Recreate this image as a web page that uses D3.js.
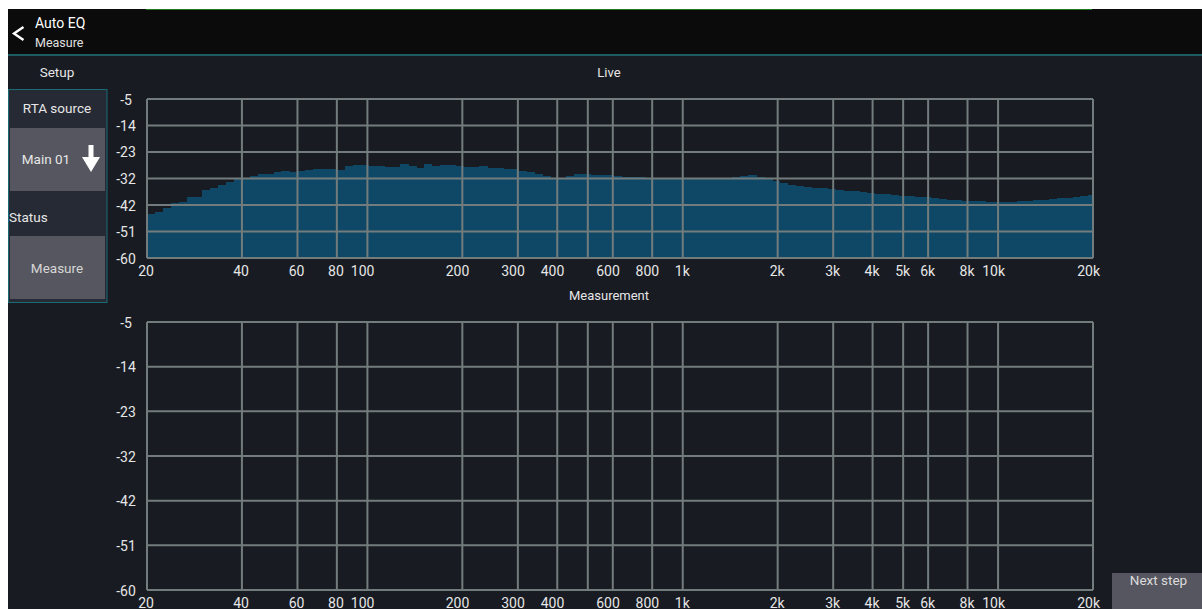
<!DOCTYPE html>
<html>
<head>
<meta charset="utf-8">
<script src="https://cdn.jsdelivr.net/npm/d3@7"></script>
<style>
  html, body { margin: 0; padding: 0; background: #fff; }
  svg { display: block; font-family: Roboto, "Noto Sans", sans-serif; }
</style>
</head>
<body>
<div id="app"></div>
<script>
// RTA levels (dB), one per 1/12 octave band starting at 20 Hz
const liveLevels = [
  -44.8, -44.2, -42.6, -41.1, -40.5, -38.9, -38.9, -36.4, -35.9, -34.8,
  -33.8, -32.7, -32.7, -31.5, -31.1, -31.1, -30.2, -30.0, -30.2, -29.9,
  -29.4, -29.1, -29.1, -29.3, -29.5, -28.3, -27.8, -27.8, -28.1, -28.1,
  -28.4, -28.4, -27.6, -28.3, -29.0, -27.6, -28.2, -27.8, -27.9, -28.3,
  -28.5, -28.5, -28.3, -29.0, -29.0, -29.3, -29.3, -29.9, -30.2, -30.8,
  -31.5, -32.4, -32.4, -31.5, -31.1, -31.1, -31.3, -31.2, -31.2, -31.5,
  -31.9, -31.9, -32.0, -32.2, -32.5, -32.5, -32.5, -32.6, -32.6, -32.6,
  -32.6, -32.6, -32.5, -32.3, -32.0, -31.5, -31.4, -32.0, -32.6, -33.4,
  -34.0, -34.6, -35.2, -35.5, -35.7, -35.9, -36.1, -36.4, -36.7, -36.9,
  -37.2, -37.4, -37.7, -37.9, -38.2, -38.4, -38.6, -38.8, -38.9, -39.2,
  -39.5, -39.8, -40.0, -40.2, -40.3, -40.4, -40.5, -40.5, -40.5, -40.5,
  -40.4, -40.2, -40.1, -39.9, -39.7, -39.4, -39.2, -38.9, -38.6, -38.3
];
const measurementLevels = []; // nothing measured yet

const bandsPerOctave = 12;
const freqDomain = [20, 20000];
const dbDomain = [-60, -5];

const gridFreqs = [40, 60, 80, 100, 200, 300, 400, 500, 600, 800,
  1000, 2000, 3000, 4000, 5000, 6000, 8000, 10000];
const freqLabels = [20, 40, 60, 80, 100, 200, 300, 400, 600, 800,
  1000, 2000, 3000, 4000, 5000, 6000, 8000, 10000, 20000];
const dbTicks = [-5, -14.17, -23.33, -32.5, -41.67, -50.83, -60];
const dbLabels = ["-5", "-14", "-23", "-32", "-42", "-51", "-60"];

const W = 1202, H = 609;
const gridColor = "#737c7c";
const textColor = "#e6e6e6";

const svg = d3.select("#app").append("svg")
  .attr("width", W).attr("height", H);

// page + app background
svg.append("rect").attr("width", W).attr("height", H).attr("fill", "#fff");
svg.append("rect").attr("x", 8).attr("y", 9).attr("width", W - 8).attr("height", H - 9)
  .attr("fill", "#181b22");

// header
svg.append("rect").attr("x", 8).attr("y", 9).attr("width", W - 8).attr("height", 45)
  .attr("fill", "#0b0b0b");
svg.append("rect").attr("x", 8).attr("y", 54).attr("width", W - 8).attr("height", 2)
  .attr("fill", "#1c5a64");
svg.append("rect").attr("x", 146).attr("y", 9).attr("width", 946).attr("height", 1)
  .attr("fill", "#1f7a22");
svg.append("path").attr("d", "M23.5,27 L14,33.5 L23.5,40")
  .attr("fill", "none").attr("stroke", "#fff").attr("stroke-width", 2.4);
svg.append("text").attr("x", 35).attr("y", 28).attr("fill", "#fff")
  .attr("font-size", 14).text("Auto EQ");
svg.append("text").attr("x", 35).attr("y", 46.5).attr("fill", "#e0e0e0")
  .attr("font-size", 12.5).text("Measure");

// left setup panel
svg.append("text").attr("x", 57).attr("y", 77).attr("text-anchor", "middle")
  .attr("fill", textColor).attr("font-size", 13.5).text("Setup");
svg.append("rect").attr("x", 8.5).attr("y", 89.5).attr("width", 98.5).attr("height", 213)
  .attr("fill", "#262a35").attr("stroke", "#1b6b77").attr("stroke-width", 1);
svg.append("text").attr("x", 57).attr("y", 113).attr("text-anchor", "middle")
  .attr("fill", textColor).attr("font-size", 13.5).text("RTA source");
svg.append("rect").attr("x", 10).attr("y", 128).attr("width", 95).attr("height", 63)
  .attr("fill", "#55565f");
svg.append("text").attr("x", 46).attr("y", 164).attr("text-anchor", "middle")
  .attr("fill", textColor).attr("font-size", 13.5).text("Main 01");
svg.append("path")
  .attr("d", "M88.5,145 L93.5,145 L93.5,157 L100,157 L91,172 L82,157 L88.5,157 Z")
  .attr("fill", "#fff");
svg.append("text").attr("x", 9).attr("y", 221.5)
  .attr("fill", textColor).attr("font-size", 13.5).text("Status");
svg.append("rect").attr("x", 10).attr("y", 236).attr("width", 95).attr("height", 63)
  .attr("fill", "#55565f");
svg.append("text").attr("x", 57).attr("y", 272.5).attr("text-anchor", "middle")
  .attr("fill", "#d6d6d6").attr("font-size", 13.5).text("Measure");

// next step button
svg.append("rect").attr("x", 1112).attr("y", 573).attr("width", 90).attr("height", 40)
  .attr("fill", "#55565f");
svg.append("text").attr("x", 1158.5).attr("y", 585).attr("text-anchor", "middle")
  .attr("fill", "#dcdcdc").attr("font-size", 13.5).text("Next step");

// chart titles
svg.append("text").attr("x", 609).attr("y", 77).attr("text-anchor", "middle")
  .attr("fill", textColor).attr("font-size", 13).text("Live");
svg.append("text").attr("x", 609).attr("y", 300).attr("text-anchor", "middle")
  .attr("fill", textColor).attr("font-size", 13).text("Measurement");

function fmtFreq(f) {
  return f >= 1000 ? (f / 1000) + "k" : String(f);
}

function drawPlot(top, bottom, levels) {
  const x = d3.scaleLog().domain(freqDomain).range([147, 1093]);
  const y = d3.scaleLinear().domain(dbDomain).range([bottom, top]);
  const g = svg.append("g");

  const bands = levels.map((v, i) => ({
    f0: freqDomain[0] * Math.pow(2, i / bandsPerOctave),
    f1: Math.min(freqDomain[0] * Math.pow(2, (i + 1) / bandsPerOctave), freqDomain[1]),
    v
  }));

  g.selectAll("rect.band").data(bands).join("rect")
    .attr("class", "band")
    .attr("x", d => x(d.f0))
    .attr("width", d => Math.max(0, x(d.f1) - x(d.f0) + 0.6))
    .attr("y", d => y(d.v))
    .attr("height", d => y(dbDomain[0]) - y(d.v))
    .attr("fill", "#0f4867")
    .attr("shape-rendering", "crispEdges");

  // grid
  g.selectAll("line.hg").data(dbTicks).join("line")
    .attr("x1", x(freqDomain[0])).attr("x2", x(freqDomain[1]))
    .attr("y1", d => y(d)).attr("y2", d => y(d))
    .attr("stroke", gridColor).attr("stroke-width", 2);
  g.selectAll("line.vg").data(gridFreqs.concat(freqDomain)).join("line")
    .attr("x1", d => x(d)).attr("x2", d => x(d))
    .attr("y1", y(dbDomain[1])).attr("y2", y(dbDomain[0]))
    .attr("stroke", gridColor).attr("stroke-width", 2);

  // labels
  g.selectAll("text.yl").data(dbTicks).join("text")
    .attr("x", 126).attr("y", d => y(d) + 5.5)
    .attr("text-anchor", "middle").attr("fill", textColor).attr("font-size", 14)
    .text((d, i) => dbLabels[i]);
  g.selectAll("text.xl").data(freqLabels).join("text")
    .attr("x", d => x(d) + 7).attr("y", y(dbDomain[0]) + 18)
    .attr("text-anchor", "end").attr("fill", textColor).attr("font-size", 14)
    .text(fmtFreq);
}

drawPlot(99, 258, liveLevels);
drawPlot(322, 590, measurementLevels);
</script>
</body>
</html>
